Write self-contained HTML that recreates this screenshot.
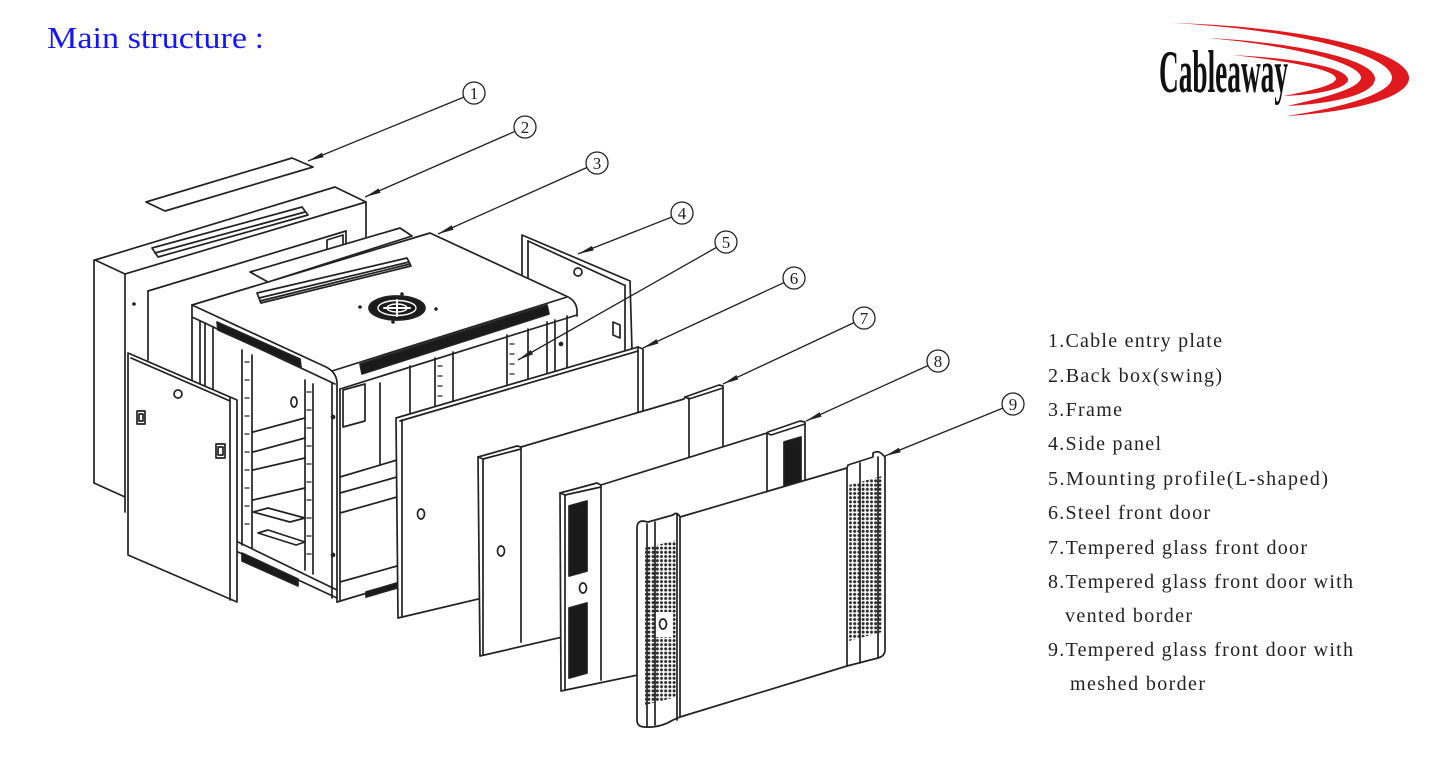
<!DOCTYPE html>
<html><head><meta charset="utf-8"><style>
html,body{margin:0;padding:0;background:#fff;}
svg{display:block;}
</style></head><body>
<svg width="1440" height="757" viewBox="0 0 1440 757" xmlns="http://www.w3.org/2000/svg">
<defs>
<marker id="ar" viewBox="0 0 16 6" markerWidth="16" markerHeight="6" refX="16" refY="3" orient="auto" markerUnits="userSpaceOnUse">
<path d="M0,0.6 L16,3 L0,5.4 Z" fill="#222"/>
</marker>
<pattern id="mesh" width="4.2" height="4.2" patternUnits="userSpaceOnUse">
<rect width="4.2" height="4.2" fill="#fff"/><circle cx="2.1" cy="2.1" r="1.5" fill="#2a2a2a"/>
</pattern>
</defs>
<rect width="1440" height="757" fill="#fff"/>

<!-- Title -->
<text x="47" y="48" font-family="Liberation Serif, serif" font-size="31" fill="#1414ff" textLength="200" lengthAdjust="spacingAndGlyphs">Main structure</text>
<text x="255" y="48" font-family="Liberation Serif, serif" font-size="31" fill="#1414ff">:</text>

<!-- Logo -->
<g fill="#e0191e">
<path d="M1173,23 C1290,26 1405,48 1409,77 C1411,98 1350,112 1287,116 C1345,107 1393,93 1392,77 C1390,55 1300,30 1173,23 Z"/>
<path d="M1207,38 C1290,42 1373,58 1375,78 C1376,95 1330,104 1287,106 C1322,98 1359,89 1361,78 C1362,63 1290,45 1207,38 Z"/>
<path d="M1232,55 C1290,58 1345,66 1348,79 C1349,89 1315,95 1284,96 C1308,91 1334,86 1336,79 C1337,70 1290,61 1232,55 Z"/>
</g>
<text x="1159" y="92" font-family="Liberation Serif, serif" font-weight="bold" font-size="60" fill="#111" textLength="129" lengthAdjust="spacingAndGlyphs">Cableaway</text>

<!-- Legend -->
<g font-family="Liberation Serif, serif" font-size="20" fill="#222">
<text x="1048" y="347" textLength="174" lengthAdjust="spacing">1.Cable entry plate</text>
<text x="1048" y="382" textLength="174" lengthAdjust="spacing">2.Back box(swing)</text>
<text x="1048" y="416" textLength="74" lengthAdjust="spacing">3.Frame</text>
<text x="1048" y="450" textLength="113" lengthAdjust="spacing">4.Side panel</text>
<text x="1048" y="485" textLength="280" lengthAdjust="spacing">5.Mounting profile(L-shaped)</text>
<text x="1048" y="519" textLength="162" lengthAdjust="spacing">6.Steel front door</text>
<text x="1048" y="554" textLength="259" lengthAdjust="spacing">7.Tempered glass front door</text>
<text x="1048" y="588" textLength="305" lengthAdjust="spacing">8.Tempered glass front door with</text>
<text x="1065" y="622" textLength="127" lengthAdjust="spacing">vented border</text>
<text x="1048" y="656" textLength="305" lengthAdjust="spacing">9.Tempered glass front door with</text>
<text x="1070" y="690" textLength="135" lengthAdjust="spacing">meshed border</text>
</g>

<g stroke="#222" stroke-width="1.7" fill="none" stroke-linejoin="round" stroke-linecap="round">

<!-- Back box (2) -->
<polygon points="95,260 335,187 366,202 125,274" fill="#fff"/>
<polygon points="152,248 302,207 308,215 158,257"/>
<line x1="155" y1="253" x2="305" y2="212"/>
<line x1="366" y1="202" x2="366" y2="240"/>
<line x1="148" y1="291" x2="346" y2="231"/>
<line x1="346" y1="231" x2="346" y2="248"/>
<line x1="94" y1="260" x2="94" y2="483"/>
<line x1="125" y1="274" x2="125" y2="512"/>
<line x1="94" y1="483" x2="125" y2="497"/>
<line x1="148" y1="291" x2="148" y2="360"/>
<polygon points="327,240 343,235 343,246 327,251"/>
<circle cx="134" cy="304" r="1.8" fill="#222" stroke="none"/>

<!-- Plate 1 -->
<polygon points="146,202 292,158 313,167 165,211" fill="#fff"/>

<!-- Side panel (4) -->
<path d="M522,300 L522,235 L630,281 L632,350" fill="#fff"/>
<line x1="528" y1="241" x2="624" y2="285"/>
<line x1="528" y1="241" x2="528" y2="280"/>
<line x1="625" y1="285" x2="625" y2="350"/>
<circle cx="578" cy="272" r="4"/>
<polygon points="613,322 620,325 620,338 613,335"/>

<!-- Frame (3) silhouette -->
<path d="M192,305 L430,233 L570,297 L578,310 L578,600 L337,604 L192,540 Z" fill="#fff" stroke="none"/>
<path d="M192,305 L430,233 L566,296 Q576,300 577,310 L577,316"/>
<path d="M192,305 L326,367 Q336,372 337,382 L337,602"/>
<line x1="332" y1="371" x2="567" y2="297"/>
<line x1="192" y1="317" x2="335" y2="384"/>
<line x1="340" y1="389" x2="577" y2="315"/>
<line x1="192" y1="305" x2="192" y2="540"/>
<polygon points="217,322 300,359 301,367 218,330" fill="#1a1a1a"/>
<polygon points="360,364 547,305 549,314 362,374" fill="#1a1a1a"/>
<!-- frame top slot -->
<polygon points="257,293 407,258 411,266 261,303"/>
<line x1="259" y1="298" x2="409" y2="262"/>
<line x1="260" y1="301" x2="410" y2="264"/>
<!-- fan -->
<ellipse cx="397" cy="308" rx="28" ry="12" fill="#1c1c1c"/>
<ellipse cx="397" cy="308" rx="19" ry="7.5" stroke="#fff" stroke-width="1.4"/>
<ellipse cx="397" cy="308" rx="10" ry="4" stroke="#fff" stroke-width="1.4"/>
<line x1="397" y1="300" x2="397" y2="316" stroke="#fff" stroke-width="2"/>
<line x1="384" y1="308" x2="410" y2="308" stroke="#fff" stroke-width="2"/>
<g fill="#222" stroke="none">
<circle cx="360" cy="307" r="1.8"/><circle cx="402" cy="294" r="1.8"/><circle cx="436" cy="309" r="1.8"/><circle cx="393" cy="322" r="1.8"/>
</g>
<!-- frame floating plate -->
<polygon points="250,272 400,228 412,236 268,282" fill="#fff"/>

<!-- frame left face interior -->
<line x1="200" y1="321" x2="200" y2="390"/>
<line x1="205" y1="323" x2="205" y2="392"/>
<line x1="213" y1="327" x2="213" y2="395"/>
<line x1="242" y1="350" x2="242" y2="545"/>
<line x1="252" y1="355" x2="252" y2="548"/>
<line x1="305" y1="380" x2="305" y2="570"/>
<line x1="313" y1="384" x2="313" y2="574"/>
<line x1="332" y1="383" x2="332" y2="598"/>
<g stroke-width="1.3">
<path d="M245,362h4M245,380h4M245,398h4M245,416h4M245,434h4M245,452h4M245,470h4M245,488h4M245,506h4M245,524h4"/>
<path d="M307,392h4M307,410h4M307,428h4M307,446h4M307,464h4M307,482h4M307,500h4M307,518h4M307,536h4M307,554h4"/>
</g>
<line x1="253" y1="432" x2="305" y2="418"/>
<line x1="253" y1="452" x2="305" y2="438"/>
<line x1="253" y1="470" x2="305" y2="458"/>
<line x1="253" y1="500" x2="305" y2="488"/>
<polygon points="253,512 290,522 305,518 268,508"/>
<polygon points="258,533 296,545 305,542 268,530"/>
<ellipse cx="294" cy="402" rx="3" ry="5"/>
<circle cx="333" cy="417" r="1.5" fill="#222"/>
<circle cx="333" cy="555" r="1.5" fill="#222"/>
<line x1="238" y1="542" x2="337" y2="590"/>
<line x1="238" y1="552" x2="337" y2="598"/>
<polygon points="242,553 298,579 298,586 242,561" fill="#1a1a1a"/>

<!-- frame front face -->
<line x1="340" y1="389" x2="340" y2="600"/>
<polygon points="343,390 365,384 365,421 343,427"/>
<line x1="380" y1="383" x2="380" y2="465"/>
<line x1="340" y1="477" x2="397" y2="460"/>
<line x1="340" y1="493" x2="397" y2="477"/>
<line x1="340" y1="513" x2="397" y2="497"/>
<line x1="340" y1="582" x2="397" y2="566"/>
<line x1="337" y1="602" x2="397" y2="584"/>
<polygon points="366,592 397,583 397,588 366,597" fill="#1a1a1a"/>
<line x1="410" y1="366" x2="410" y2="414"/>
<line x1="435" y1="358" x2="435" y2="407"/>
<line x1="453" y1="352" x2="453" y2="401"/>
<path d="M438,366h4M438,376h4M438,386h4M438,396h4" stroke-width="1.3"/>
<line x1="507" y1="335" x2="507" y2="385"/>
<line x1="528" y1="329" x2="528" y2="379"/>
<path d="M510,344h4M510,354h4M510,364h4M510,374h4" stroke-width="1.3"/>
<line x1="547" y1="322" x2="547" y2="374"/>
<line x1="555" y1="320" x2="555" y2="371"/>
<line x1="567" y1="316" x2="567" y2="368"/>
<circle cx="561" cy="344" r="1.5" fill="#222"/>

<!-- Left swing door -->
<polygon points="128,353 237,400 237,602 128,555" fill="#fff"/>
<line x1="230" y1="398" x2="230" y2="600"/>
<line x1="131" y1="358" x2="230" y2="401"/>
<circle cx="178" cy="394" r="4"/>
<rect x="137" y="411" width="8" height="13"/>
<rect x="139" y="414" width="4" height="7"/>
<rect x="216" y="444" width="9" height="14"/>
<rect x="218" y="447" width="5" height="8"/>

<!-- Door 6 -->
<polygon points="396,418 638,347 643,349 643,560 398,618" fill="#fff"/>
<line x1="402" y1="420" x2="402" y2="616"/>
<line x1="400" y1="421" x2="638" y2="351"/>
<line x1="638" y1="347" x2="638" y2="412"/>
<ellipse cx="421" cy="514" rx="3.5" ry="5"/>

<!-- Door 7 -->
<polygon points="478,457 517,446 521,447 684,399 685,397 719,385 723,386 723,600 480,656" fill="#fff"/>
<line x1="483" y1="459" x2="483" y2="655"/>
<line x1="521" y1="447" x2="521" y2="642"/>
<line x1="689" y1="398" x2="689" y2="460"/>
<path d="M478,457 L483,459 L521,449"/>
<path d="M685,397 L689,399 L723,388"/>
<ellipse cx="501" cy="551" rx="3.5" ry="5"/>

<!-- Door 8 -->
<polygon points="560,493 597,483 601,485 767,433 768,432 800,421 805,422 805,640 561,691" fill="#fff"/>
<line x1="565" y1="495" x2="565" y2="690"/>
<line x1="601" y1="485" x2="601" y2="680"/>
<line x1="767" y1="433" x2="767" y2="495"/>
<path d="M560,493 L565,495 L601,487"/>
<path d="M767,433 L771,435 L805,424"/>
<polygon points="569,506 587,501 587,571 569,576" fill="#1a1a1a"/>
<polygon points="569,608 587,603 587,673 569,678" fill="#1a1a1a"/>
<polygon points="784,442 801,437 801,482 784,487" fill="#1a1a1a"/>
<ellipse cx="583" cy="588" rx="3.5" ry="5"/>

<!-- Door 9 -->
<path d="M637,528 Q637,521 643,521 L648,522 L673,515 Q677,511 680,517 L847,468 L848,465 L873,457 L873,453 Q878,450 882,454 L885,457 L885,650 Q885,656 878,658 L847,666 L680,717 L673,720 Q660,728 645,727 Q637,727 637,720 Z" fill="#fff"/>
<polygon points="645,548 677,540 677,697 645,705" fill="url(#mesh)" stroke="none"/>
<polygon points="849,485 882,476 882,632 849,641" fill="url(#mesh)" stroke="none"/>
<rect x="655" y="612" width="18" height="25" fill="#fff" stroke="none"/>
<line x1="647" y1="524" x2="647" y2="727"/>
<line x1="655" y1="522" x2="655" y2="725"/>
<line x1="677" y1="514" x2="677" y2="720"/>
<line x1="680" y1="518" x2="680" y2="717"/>
<line x1="847" y1="468" x2="847" y2="666"/>
<line x1="860" y1="463" x2="860" y2="663"/>
<line x1="878" y1="457" x2="878" y2="657"/>
<ellipse cx="663" cy="624" rx="3.5" ry="5"/>
</g>

<!-- Leaders -->
<g stroke="#222" stroke-width="1.3" fill="none">
<line x1="474" y1="93" x2="308" y2="161" marker-end="url(#ar)"/>
<line x1="525" y1="127" x2="365" y2="197" marker-end="url(#ar)"/>
<line x1="597" y1="163" x2="438" y2="234" marker-end="url(#ar)"/>
<line x1="682" y1="213" x2="578" y2="254" marker-end="url(#ar)"/>
<line x1="726" y1="242" x2="518" y2="360" marker-end="url(#ar)"/>
<line x1="794" y1="278" x2="643" y2="348" marker-end="url(#ar)"/>
<line x1="864" y1="318" x2="723" y2="384" marker-end="url(#ar)"/>
<line x1="938" y1="361" x2="806" y2="421" marker-end="url(#ar)"/>
<line x1="1013" y1="404" x2="885" y2="456" marker-end="url(#ar)"/>
</g>
<g stroke="#222" stroke-width="1.3" fill="#fff">
<circle cx="474" cy="93" r="11"/><circle cx="525" cy="127" r="11"/><circle cx="597" cy="163" r="11"/>
<circle cx="682" cy="213" r="11"/><circle cx="726" cy="242" r="11"/><circle cx="794" cy="278" r="11"/>
<circle cx="864" cy="318" r="11"/><circle cx="938" cy="361" r="11"/><circle cx="1013" cy="404" r="11"/>
</g>
<g font-family="Liberation Serif, serif" font-size="17" fill="#222" text-anchor="middle">
<text x="474" y="99">1</text><text x="525" y="133">2</text><text x="597" y="169">3</text>
<text x="682" y="219">4</text><text x="726" y="248">5</text><text x="794" y="284">6</text>
<text x="864" y="324">7</text><text x="938" y="367">8</text><text x="1013" y="410">9</text>
</g>
</svg>
</body></html>
